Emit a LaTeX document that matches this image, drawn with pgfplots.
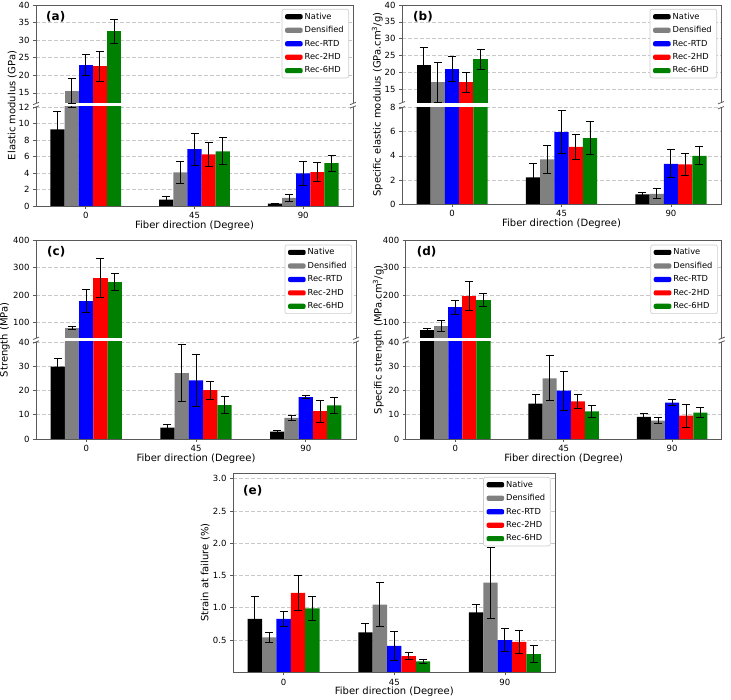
\documentclass[border=0pt]{standalone}
\usepackage{pgfplots}
\pgfplotsset{compat=1.18}
\usepackage{pgfplotstable}
\usepackage{fontspec}
\setmainfont{DejaVu Sans}

\definecolor{cNat}{HTML}{000000}
\definecolor{cDen}{HTML}{808080}
\definecolor{cRtd}{HTML}{0000FF}
\definecolor{cTwo}{HTML}{FF0000}
\definecolor{cSix}{HTML}{008000}
\definecolor{framec}{HTML}{5A5A5A}
\definecolor{gridc}{HTML}{C8C8C8}
\definecolor{legc}{HTML}{CCCCCC}

% x: 0 = 0 deg, 1 = 45 deg, 2 = 90 deg; each value followed by its standard deviation
\pgfplotstableread{
x nat natE den denE rtd rtdE two twoE six sixE
0 9.3  2.2  15.5 3.6  22.9 3.0  22.6 4.3  32.5 3.4
1 0.77 0.35 4.07 1.3  6.9  1.95 6.26 1.42 6.63 1.63
2 0.28 0.08 0.98 0.45 3.94 1.5  4.1  1.17 5.2  0.97
}\modulus

\pgfplotstableread{
x nat natE den denE rtd rtdE two twoE six sixE
0 22.3 5.0  17.0 6.0  20.9 3.7  17.0 3.0  23.9 3.0
1 2.22 1.17 3.7  1.13 5.97 1.8  4.74 1.0  5.48 1.37
2 0.79 0.17 0.85 0.4  3.34 1.15 3.29 0.93 4.0  0.74
}\specmodulus

\pgfplotstableread{
x nat natE den denE rtd rtdE two twoE six sixE
0 29.8 3.3 79.0 5.5  177.5 44.0 261.0 72.0 248.0 30.0
1 4.7  1.2 27.2 11.6 24.2  10.6 20.1  3.6  14.0  3.4
2 3.0  0.5 8.7  1.1  17.3  0.6  11.5  4.5  13.9  3.2
}\strength

\pgfplotstableread{
x nat natE den denE rtd rtdE two twoE six sixE
0 70.5 5.0 85.0 19.7 154.0 24.6 196.0 52.0 180.0 24.0
1 14.6 3.6 25.0 9.3  19.9  8.0  15.5  2.7  11.4  2.6
2 9.1  1.4 7.6  1.2  15.0  1.2  9.6   4.7  10.9  2.1
}\specstrength

\pgfplotstableread{
x nat natE den denE rtd rtdE two twoE six sixE
0 0.83 0.35  0.54 0.07 0.83 0.115 1.23 0.27  0.99 0.19
1 0.62 0.14  1.05 0.34 0.41 0.23  0.25 0.055 0.17 0.03
2 0.93 0.125 1.39 0.55 0.50 0.18  0.47 0.18  0.28 0.13
}\strain

\tikzset{panellabel/.style={anchor=west, inner sep=0pt, font=\bfseries\fontsize{12}{14}\selectfont}}

\pgfplotsset{
  legbar/.style={draw=none,
    legend image code/.code={\fill[##1, draw=none] (0pt,-2.6pt) rectangle (17.7pt,2.6pt);}},
  eb/.style={draw=none, forget plot,
    error bars/y dir=both, error bars/y explicit,
    error bars/error bar style={draw=black, line width=0.9pt},
    error bars/error mark options={draw=black, line width=0.9pt, mark size=4pt, rotate=90}},
  base/.style={
    scale only axis, ybar, bar width=0.13,
    xmin=-0.4575, xmax=2.4575, enlargelimits=false,
    axis line style={draw=none},
    ytick pos=left, xtick pos=bottom, tick align=outside,
    major tick length=3pt,
    every tick/.style={framec, line width=0.6pt},
    tick label style={font=\fontsize{8.5}{10}\selectfont},
    label style={font=\fontsize{10}{12}\selectfont},
    /pgf/number format/assume math mode=true,
    ymajorgrids,
    major grid style={draw=gridc, line width=0.6pt, dash pattern=on 4pt off 2pt},
    legend cell align=left,
    legend style={at={(1,1)}, anchor=north east, xshift=-4pt, yshift=-4pt,
      draw=legc, line width=0.6pt, rounded corners=2pt, fill=white,
      font=\fontsize{8.3}{10}\selectfont, inner xsep=3pt, inner ysep=1.5pt,
      row sep=1.8pt},
  },
  upper/.style={base, xtick=\empty,
    extra description/.code={
      \draw[framec, line width=0.8pt] (0,0) -- (0,1) -- (1,1) -- (1,0);
      \draw[framec, line width=0.8pt] (0,0) ++(-3pt,-1.2pt) -- ++(6pt,2.4pt);
      \draw[framec, line width=0.8pt] (1,0) ++(-3pt,-1.2pt) -- ++(6pt,2.4pt);
    }},
  lower/.style={base, xtick={0,1,2}, xticklabels={0,45,90},
    xlabel={Fiber direction (Degree)},
    xlabel style={at={(axis description cs:0.5,0)}, anchor=north, inner sep=0pt, yshift=-14.4pt},
    extra description/.code={
      \draw[framec, line width=0.8pt] (0,1) -- (0,0) -- (1,0) -- (1,1);
      \draw[framec, line width=0.8pt] (0,1) ++(-3pt,-1.2pt) -- ++(6pt,2.4pt);
      \draw[framec, line width=0.8pt] (1,1) ++(-3pt,-1.2pt) -- ++(6pt,2.4pt);
    }},
  single/.style={base, xtick={0,1,2}, xticklabels={0,45,90},
    xlabel={Fiber direction (Degree)},
    xlabel style={at={(axis description cs:0.5,0)}, anchor=north, inner sep=0pt, yshift=-14.4pt},
    extra description/.code={
      \draw[framec, line width=0.8pt] (0,0) rectangle (1,1);
    }},
}

% five bar series (one per treatment) with their error bars
\newcommand\fivebars[1]{%
  \addplot[fill=cNat, bar shift=-0.26, eb] table[x=x, y=nat, y error=natE] {#1};
  \addplot[fill=cDen, bar shift=-0.13, eb] table[x=x, y=den, y error=denE] {#1};
  \addplot[fill=cRtd, bar shift=0, eb]     table[x=x, y=rtd, y error=rtdE] {#1};
  \addplot[fill=cTwo, bar shift=0.13, eb]  table[x=x, y=two, y error=twoE] {#1};
  \addplot[fill=cSix, bar shift=0.26, eb]  table[x=x, y=six, y error=sixE] {#1};
}
% legend of the five treatments
\newcommand\legendfive{%
  \addlegendimage{legbar, fill=cNat}\addlegendentry{Native}
  \addlegendimage{legbar, fill=cDen}\addlegendentry{Densified}
  \addlegendimage{legbar, fill=cRtd}\addlegendentry{Rec-RTD}
  \addlegendimage{legbar, fill=cTwo}\addlegendentry{Rec-2HD}
  \addlegendimage{legbar, fill=cSix}\addlegendentry{Rec-6HD}
}

\begin{document}
\begin{tikzpicture}
\useasboundingbox (0pt,0pt) rectangle (731pt,700pt);

% ---------- (a) elastic modulus ----------
\begin{axis}[upper, at={(36pt,695pt)}, anchor=north west, width=317pt, height=98.5pt,
  ymin=12, ymax=40, ytick={15,20,...,40}, restrict y to domain=12:100]
  \legendfive
  \fivebars{\modulus}
  \node[panellabel, xshift=10pt, yshift=-11.5pt] at (rel axis cs:0,1) {(a)};
\end{axis}
\begin{axis}[lower, at={(36pt,494pt)}, anchor=south west, width=317pt, height=99pt,
  ymin=0, ymax=12, ytick={0,2,...,12},
  ylabel={Elastic modulus (GPa)},
  ylabel style={at={(axis description cs:0,1.015)}, anchor=south, inner sep=0pt, yshift=19pt}]
  \fivebars{\modulus}
\end{axis}

% ---------- (b) specific elastic modulus ----------
\begin{axis}[upper, at={(402pt,695pt)}, anchor=north west, width=319pt, height=97.7pt,
  ymin=11, ymax=40, ytick={15,20,...,40}, restrict y to domain=11:100]
  \legendfive
  \fivebars{\specmodulus}
  \node[panellabel, xshift=11pt, yshift=-12pt] at (rel axis cs:0,1) {(b)};
\end{axis}
\begin{axis}[lower, at={(402pt,496pt)}, anchor=south west, width=319pt, height=96.3pt,
  ymin=0, ymax=8, ytick={0,2,...,8},
  ylabel={Specific elastic modulus (GPa.cm\textsuperscript{3}/g)},
  ylabel style={at={(axis description cs:0,1.033)}, anchor=south, inner sep=0pt, yshift=19pt}]
  \fivebars{\specmodulus}
\end{axis}

% ---------- (c) strength ----------
\begin{axis}[upper, at={(36pt,459.3pt)}, anchor=north west, width=320pt, height=97.6pt,
  ymin=40, ymax=400, ytick={100,200,300,400}, restrict y to domain=40:1000]
  \legendfive
  \fivebars{\strength}
  \node[panellabel, xshift=11pt, yshift=-11.3pt] at (rel axis cs:0,1) {(c)};
\end{axis}
\begin{axis}[lower, at={(36pt,261pt)}, anchor=south west, width=320pt, height=97pt,
  ymin=0, ymax=40, ytick={0,10,...,40},
  ylabel={Strength (MPa)},
  ylabel style={at={(axis description cs:0,1.022)}, anchor=south, inner sep=0pt, yshift=26pt}]
  \fivebars{\strength}
\end{axis}

% ---------- (d) specific strength ----------
\begin{axis}[upper, at={(405.7pt,459.3pt)}, anchor=north west, width=316pt, height=97.6pt,
  ymin=40, ymax=400, ytick={100,200,300,400}, restrict y to domain=40:1000]
  \legendfive
  \fivebars{\specstrength}
  \node[panellabel, xshift=11pt, yshift=-11.3pt] at (rel axis cs:0,1) {(d)};
\end{axis}
\begin{axis}[lower, at={(405.7pt,261pt)}, anchor=south west, width=316pt, height=97pt,
  ymin=0, ymax=40, ytick={0,10,...,40},
  ylabel={Specific strength (MPa.cm\textsuperscript{3}/g)},
  ylabel style={at={(axis description cs:0,1.022)}, anchor=south, inner sep=0pt, yshift=21.7pt}]
  \fivebars{\specstrength}
\end{axis}

% ---------- (e) strain at failure ----------
\begin{axis}[single, at={(233pt,27.7pt)}, anchor=south west, width=322.5pt, height=199.3pt,
  ymin=0, ymax=3.09, ytick={0.5,1.0,...,3.0},
  yticklabel style={/pgf/number format/.cd, fixed, fixed zerofill, precision=1},
  legend style={xshift=-1pt},
  ylabel={Strain at failure (\%)},
  ylabel style={at={(axis description cs:0,0.5)}, anchor=south, inner sep=0pt, yshift=23pt}]
  \legendfive
  \fivebars{\strain}
  \node[panellabel, xshift=10pt, yshift=-18pt] at (rel axis cs:0,1) {(e)};
\end{axis}
\end{tikzpicture}
\end{document}
